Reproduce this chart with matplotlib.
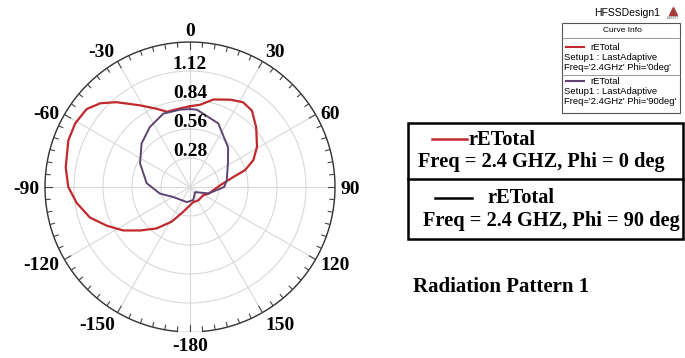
import numpy as np
import matplotlib
matplotlib.use("Agg")
import matplotlib.pyplot as plt
from matplotlib.patches import Rectangle

# rETotal, Freq = 2.4 GHz, Phi = 0 deg (angle in deg, clockwise from top)
theta_phi0 = [0, 7, 15, 25, 32, 39, 48, 59, 67, 73, 77, 87, 110, 122, 148, 168,
              197, 208, 219, 229, 237, 245, 253, 262, 270, 279, 291, 299, 307,
              313, 319, 328.5, 337, 343, 353, 360]
r_phi0 = [0.78, 0.80, 0.875, 0.93, 0.965, 0.95, 0.86, 0.755, 0.665, 0.555, 0.43,
          0.29, 0.19, 0.15, 0.152, 0.15, 0.26, 0.38, 0.515, 0.64, 0.77, 0.885,
          1.01, 1.105, 1.175, 1.215, 1.258, 1.267, 1.25, 1.185, 1.085, 0.925,
          0.82, 0.76, 0.765, 0.78]

# rETotal, Freq = 2.4 GHz, Phi = 90 deg
theta_phi90 = [0, 5, 24, 44, 58, 80, 90, 109, 135, 166, 192, 239, 257.6, 275,
               295.4, 312, 326, 340, 352.6, 360]
r_phi90 = [0.752, 0.75, 0.672, 0.53, 0.432, 0.36, 0.33, 0.19, 0.07, 0.13, 0.149,
           0.188, 0.297, 0.42, 0.534, 0.629, 0.696, 0.754, 0.753, 0.752]

rticks = [0.28, 0.56, 0.84, 1.12, 1.40]
theta_ticks = [0, 30, 60, 90, 120, 150, 180, 210, 240, 270, 300, 330]
theta_labels = ["0", "30", "60", "90", "120", "150", "-180", "-150", "-120",
                "-90", "-60", "-30"]

red = "#c0282e"
purple = "#5e4370"
serif = "Liberation Serif"
sans = "Liberation Sans"
rmax = rticks[-1]

fig = plt.figure(figsize=(6.85, 3.58), dpi=100)
ax = fig.add_axes([45 / 685, 26 / 358, 290 / 685, 290 / 358], projection="polar")
ax.set_theta_zero_location("N")
ax.set_theta_direction(-1)
ax.set_ylim(0, rmax)

ax.plot(np.deg2rad(theta_phi0), r_phi0, color=red, lw=1.6, zorder=3)
ax.plot(np.deg2rad(theta_phi90), r_phi90, color=purple, lw=1.4, zorder=3)

ax.set_xticks(np.deg2rad(theta_ticks))
ax.set_xticklabels([])
ax.tick_params(axis="x", length=0)
ax.set_yticks(rticks)
ax.set_yticklabels([])
ax.grid(True, color="#d8d8d8", lw=0.8)

# outer circle, with the small gap at the bottom
ax.spines["polar"].set_visible(False)
arc = np.deg2rad(np.linspace(-175, 175, 300))
ax.plot(arc, np.full_like(arc, rmax), color="#333333", lw=1.0, clip_on=False)

# inward ticks every 5 deg, longer every 30 deg
for t in range(0, 360, 5):
    ln = 0.07 if t % 30 == 0 else 0.045
    ax.plot([np.deg2rad(t)] * 2, [rmax, rmax - ln], color="#444444", lw=0.8)

# angle labels, anchored by their edge nearest the circle
for t, lab in zip(theta_ticks, theta_labels):
    s, c = np.sin(np.deg2rad(t)), np.cos(np.deg2rad(t))
    ha = "left" if s > 0.3 else ("right" if s < -0.3 else "center")
    va = "baseline" if c > 0.6 else ("top" if c < -0.6 else "center")
    dy = 4 * c - (2 if va == "center" else 0)
    ax.annotate(lab, xy=(np.deg2rad(t), rmax), xytext=(4 * s, dy),
                textcoords="offset points", ha=ha, va=va, fontfamily=serif,
                fontweight="bold", fontsize=14, annotation_clip=False)

for r in rticks[:-1]:
    ax.annotate(f"{r:.2f}", xy=(0, r), xytext=(0, 4.5), textcoords="offset points",
                ha="center", va="center", fontfamily=serif, fontweight="bold",
                fontsize=14, zorder=5)

# overlay in pixel coordinates for the boxes on the right
ov = fig.add_axes([0, 0, 1, 1])
ov.set_xlim(0, 685)
ov.set_ylim(358, 0)
ov.axis("off")

# HFSS curve info box
ov.text(627, 13, "HFSSDesign1", fontfamily=sans, fontsize=7.5, ha="center", va="center")
ov.plot([673], [11], marker="^", color="#a83a3a", ms=6)
ov.text(673, 18, "ANSOFT", fontfamily=sans, fontsize=2, ha="center", va="center",
        color="#555555")
ov.add_patch(Rectangle((562, 23), 118, 90, fill=False, ec="#555555", lw=0.8))
ov.plot([562, 680], [38, 38], color="#888888", lw=0.6)
ov.plot([562, 680], [75, 75], color="#888888", lw=0.6)
ov.text(622, 31, "Curve Info", fontfamily=sans, fontsize=6, ha="center", va="center")
for y0, col, phi in [(47, red, "0deg"), (81, purple, "90deg")]:
    ov.plot([566, 584], [y0, y0], color=col, lw=1.5)
    ov.text(590, y0, "rETotal", fontfamily=sans, fontsize=6.8, ha="left", va="center")
    ov.text(564, y0 + 10, "Setup1 : LastAdaptive", fontfamily=sans, fontsize=6.8,
            ha="left", va="center")
    ov.text(564, y0 + 20, f"Freq='2.4GHz' Phi='{phi}'", fontfamily=sans, fontsize=6.8,
            ha="left", va="center")

# large legend box
ov.add_patch(Rectangle((408, 123), 275, 116, fill=False, ec="black", lw=1.8))
ov.plot([408, 683], [179, 179], color="black", lw=1.8)
ov.plot([432, 467], [139, 139], color=red, lw=1.8)
ov.text(468, 140, "rETotal", fontfamily=serif, fontweight="bold", fontsize=14.7,
        ha="left", va="center")
ov.text(541, 162, "Freq = 2.4 GHZ, Phi = 0 deg", fontfamily=serif,
        fontweight="bold", fontsize=14.7, ha="center", va="center")
ov.plot([435, 472], [198, 198], color="black", lw=1.8)
ov.text(487, 198, "rETotal", fontfamily=serif, fontweight="bold", fontsize=14.7,
        ha="left", va="center")
ov.text(551, 221, "Freq = 2.4 GHZ, Phi = 90 deg", fontfamily=serif,
        fontweight="bold", fontsize=14.7, ha="center", va="center")

ov.text(413, 287, "Radiation Pattern 1", fontfamily=serif, fontweight="bold",
        fontsize=15, ha="left", va="center")

fig.savefig("out.png", dpi=100)
